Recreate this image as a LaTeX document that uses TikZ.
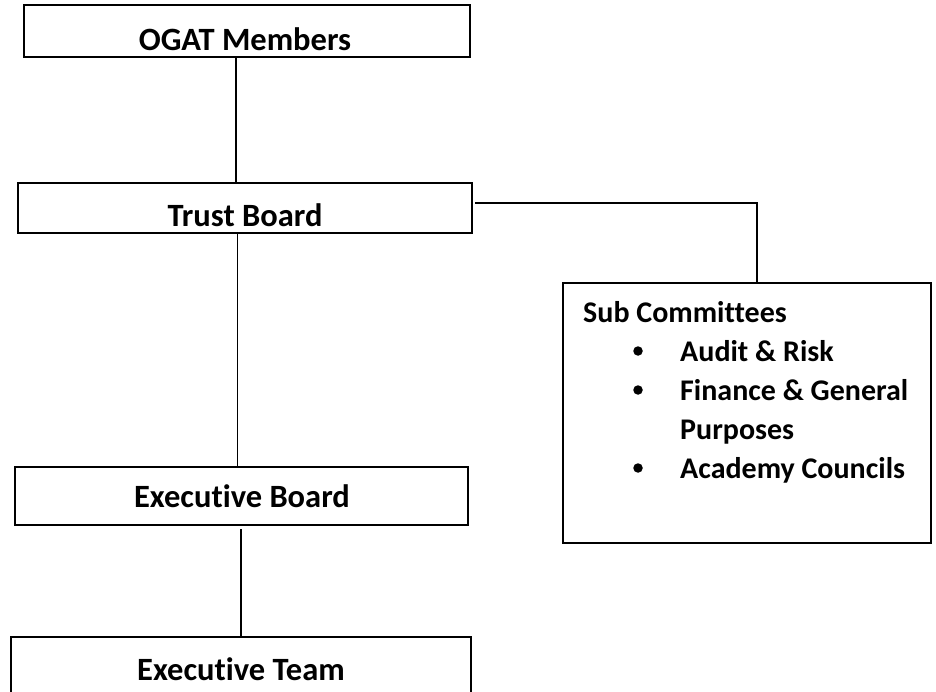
\documentclass[tikz,border=0pt]{standalone}
\usepackage{fontspec}
\setmainfont[Ligatures=NoCommon]{Carlito}
\tikzset{
  box/.style={draw=black, line width=1.9pt, rectangle, inner sep=0pt},
  conn/.style={draw=black, line width=1.2pt},
  lbl/.style={anchor=base, font=\bfseries\fontsize{32.5}{38}\selectfont, inner sep=0pt},
  sublbl/.style={anchor=base west, font=\bfseries\fontsize{30}{36}\selectfont, inner sep=0pt},
  bul/.style={circle, fill=black, inner sep=0pt, minimum size=9.5pt}
}
\begin{document}
\begin{tikzpicture}[x=1pt,y=-1pt]
\useasboundingbox (0,0) rectangle (936,692);
% boxes
\node[box, minimum width=446pt, minimum height=52pt] (ogat) at (247,31) {};
\node[box, minimum width=454pt, minimum height=50pt] (trust) at (245,208) {};
\node[box, minimum width=453pt, minimum height=58pt] (eboard) at (241.5,496) {};
\node[box, minimum width=460pt, minimum height=70pt] (eteam) at (241,672) {};
\node[box, minimum width=368pt, minimum height=260pt] (sub) at (747,413) {};
% labels
\node[lbl] (tOgat) at (245,51) {OGAT Members};
\node[lbl] (tTrust) at (245,227) {Trust Board};
\node[lbl] (tEboard) at (242,507) {Executive Board};
\node[lbl] (tEteam) at (241,680) {Executive Team};
\node[sublbl] (tSub) at (583,322) {Sub Committees};
\node[bul] (b1) at (638,351) {};
\node[sublbl] (tA) at (680,361) {Audit \& Risk};
\node[bul] (b2) at (638,390) {};
\node[sublbl] (tF) at (680,400) {Finance \& General};
\node[sublbl] (tP) at (680,439) {Purposes};
\node[bul] (b3) at (638,468) {};
\node[sublbl] (tC) at (680,478) {Academy Councils};
% connectors
\coordinate (j1) at (236,0);
\draw[conn] (j1 |- ogat.south) -- (j1 |- trust.north);
\coordinate (j2) at (237.5,0);
\draw[conn] (j2 |- trust.south) -- (j2 |- eboard.north);
\coordinate (j3) at (241,529);
\draw[conn] (j3) -- (j3 |- eteam.north);
\coordinate (j4) at (757,203);
\coordinate (j5) at (475,203);
\draw[conn] (j5) -- (j4) -- (j4 |- sub.north);
\end{tikzpicture}
\end{document}
